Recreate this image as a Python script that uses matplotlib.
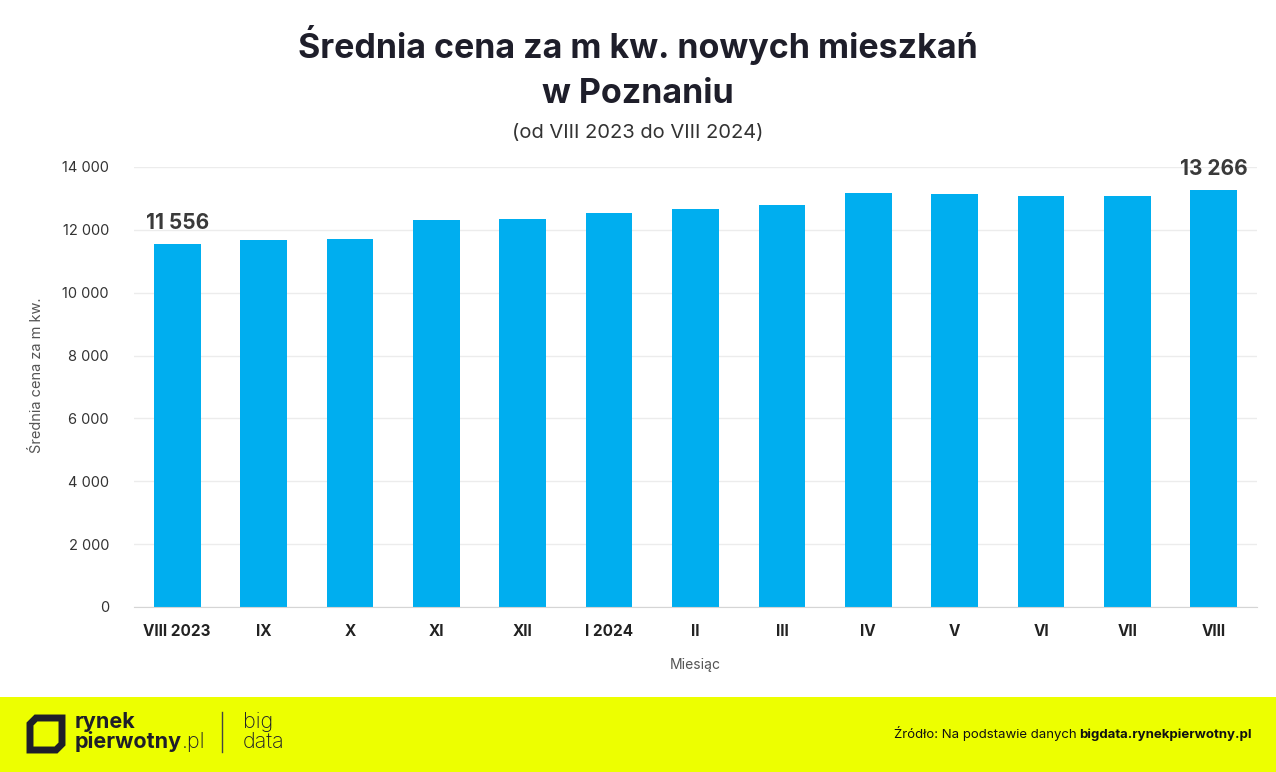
import matplotlib.pyplot as plt
from matplotlib.patches import Rectangle, Polygon
from matplotlib.lines import Line2D

plt.rcParams['font.family'] = ['Inter', 'DejaVu Sans']

# dane
miesiace = ['VIII 2023', 'IX', 'X', 'XI', 'XII', 'I 2024', 'II', 'III',
            'IV', 'V', 'VI', 'VII', 'VIII']
ceny = [11556, 11680, 11710, 12310, 12340, 12540, 12660, 12790,
        13170, 13140, 13080, 13080, 13266]
y_ticks = [0, 2000, 4000, 6000, 8000, 10000, 12000, 14000]


def fmt(v):
    return f'{v:,}'.replace(',', ' ')


W, H = 1276, 772
fig = plt.figure(figsize=(W / 100, H / 100), dpi=100)
fig.patch.set_facecolor('white')

# obszar wykresu (w pikselach: lewo 134, prawo 1257, gora 167, dol 607)
ax = fig.add_axes([134 / W, 1 - 607 / H, (1257 - 134) / W, (607 - 167) / H])
x = range(len(miesiace))
ax.bar(x, ceny, width=0.54, color='#00aeef', zorder=3)
ax.set_xlim(-0.5, len(miesiace) - 0.5)
ax.set_ylim(0, 14000)
ax.set_yticks(y_ticks)
ax.set_yticklabels([fmt(v) for v in y_ticks], fontsize=10.5, color='#333333')
ax.set_xticks(list(x))
ax.set_xticklabels(miesiace, fontsize=11, fontweight='bold', color='#222222')
ax.tick_params(axis='both', length=0)
ax.tick_params(axis='y', pad=18)
ax.tick_params(axis='x', pad=12)
ax.grid(axis='y', color='#ececec', linewidth=1, zorder=0)
for s in ['top', 'right', 'left']:
    ax.spines[s].set_visible(False)
ax.spines['bottom'].set_color('#d5d5d5')
ax.spines['bottom'].set_zorder(4)
ax.set_xlabel('Miesiąc', fontsize=10, color='#555555', labelpad=14)
ax.set_ylabel('Średnia cena za m kw.', fontsize=10.5, color='#555555')
ax.yaxis.set_label_coords(-90 / (1257 - 134), 0.527)

# etykiety pierwszego i ostatniego slupka
for i in [0, len(ceny) - 1]:
    ax.annotate(fmt(ceny[i]), (i, ceny[i]), xytext=(0, 8), textcoords='offset points',
                ha='center', va='bottom', fontsize=15, fontweight='bold', color='#3a3a3a')

# tytul
fig.text(0.5, 1 - 45 / H, 'Średnia cena za m kw. nowych mieszkań', ha='center', va='center',
         fontsize=24.5, fontweight='bold', color='#1e1e2a')
fig.text(0.5, 1 - 94 / H, 'w Poznaniu', ha='center', va='center',
         fontsize=24.5, fontweight='bold', color='#1e1e2a')
fig.text(0.5, 1 - 133 / H, '(od VIII 2023 do VIII 2024)', ha='center', va='center',
         fontsize=14.5, color='#333333')

# stopka
fig.patches.append(Rectangle((0, 0), 1, 75 / H, transform=fig.transFigure,
                             facecolor='#edff00', edgecolor='none', zorder=0))

# logo - kwadrat ze scietymi rogami
def px(xp, yp):
    return (xp / W, 1 - yp / H)

logo = Polygon([px(36, 718), px(62, 718), px(62, 744), px(56, 750),
                px(30, 750), px(30, 724)], closed=True, fill=False,
               edgecolor='#1e1e2a', linewidth=5, transform=fig.transFigure,
               joinstyle='miter')
fig.patches.append(logo)
fig.text(75 / W, 1 - 722 / H, 'rynek', fontsize=15.5, fontweight='bold', color='#1e1e2a',
         va='center', ha='left')
t = fig.text(75 / W, 1 - 742 / H, 'pierwotny', fontsize=15.5, fontweight='bold',
             color='#1e1e2a', va='center', ha='left')
fig.canvas.draw()
r = fig.canvas.get_renderer()
bb = t.get_window_extent(r)
fig.text(bb.x1 / W, 1 - 742 / H, '.pl', fontsize=15.5, fontweight='light', color='#1e1e2a',
         va='center', ha='left')
fig.lines.append(Line2D([222 / W, 222 / W], [1 - 712 / H, 1 - 752 / H],
                        transform=fig.transFigure, color='#444444', linewidth=1))
fig.text(243 / W, 1 - 722 / H, 'big', fontsize=15.5, fontweight='light', color='#1e1e2a',
         va='center', ha='left')
fig.text(243 / W, 1 - 742 / H, 'data', fontsize=15.5, fontweight='light', color='#1e1e2a',
         va='center', ha='left')

# zrodlo
tb = fig.text(1252 / W, 1 - 738 / H, 'bigdata.rynekpierwotny.pl', fontsize=9.5,
              fontweight='bold', color='#111111', ha='right', va='baseline')
fig.canvas.draw()
bb = tb.get_window_extent(r)
fig.text((bb.x0 - 3) / W, 1 - 738 / H, 'Źródło: Na podstawie danych', fontsize=9.5,
         color='#111111', ha='right', va='baseline')

fig.savefig('out.png', dpi=100)
